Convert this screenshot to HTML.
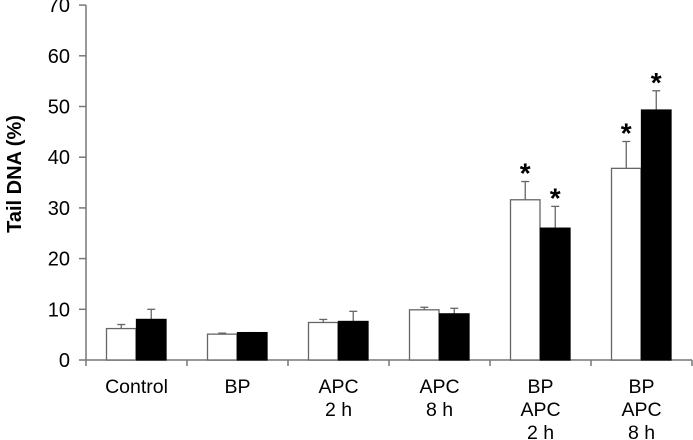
<!DOCTYPE html>
<html><head><meta charset="utf-8"><style>
html,body{margin:0;padding:0;background:#fff;}
svg{display:block;font-family:"Liberation Sans",Arial,sans-serif;}
</style></head><body>
<svg id="chart" width="693" height="440" viewBox="0 0 693 440" xmlns="http://www.w3.org/2000/svg">
<g id="axes"></g><g id="bars"></g>
</svg>
<script>
const categories = [["Control"],["BP"],["APC","2 h"],["APC","8 h"],["BP","APC","2 h"],["BP","APC","8 h"]];
const whiteValues = [6.2, 5.1, 7.4, 9.9, 31.6, 37.8];
const whiteErrors = [0.8, 0.2, 0.6, 0.5, 3.6, 5.3];
const blackValues = [8.0, 5.4, 7.6, 9.1, 26.0, 49.3];
const blackErrors = [2.0, 0.0, 2.0, 1.1, 4.3, 3.8];
const whiteSig = [false,false,false,false,true,true];
const blackSig = [false,false,false,false,true,true];
const yTicks = [0,10,20,30,40,50,60,70];

const NS="http://www.w3.org/2000/svg";
const x0=86, groupW=101, y0=360, pxPerUnit=5.07;
const y=v=>y0-v*pxPerUnit;
const gx=i=>x0+i*groupW;
const axes=document.getElementById('axes'), bars=document.getElementById('bars');
function mk(tag,attrs,parent,text){const e=document.createElementNS(NS,tag);for(const k in attrs)e.setAttribute(k,attrs[k]);if(text!==undefined)e.textContent=text;parent.appendChild(e);return e;}

let e=mk('line',{x1:x0,y1:y(70),x2:x0,y2:y0,stroke:'#777','stroke-width':1.5},axes);

e=mk('line',{x1:x0,y1:y0,x2:x0+groupW*6,y2:y0,stroke:'#777','stroke-width':1.5},axes);

yTicks.forEach(t=>{
  let l=mk('line',{x1:x0-7,y1:y(t),x2:x0,y2:y(t),stroke:'#777','stroke-width':1.5},axes);
  
  let tx=mk('text',{x:x0-16,y:y(t)+7,'text-anchor':'end','font-size':20},axes,String(t));
  
});
for(let i=0;i<=6;i++){
  let l=mk('line',{x1:gx(i),y1:y0,x2:gx(i),y2:y0+6,stroke:'#777','stroke-width':1.5},axes);
  
}
categories.forEach((lines,i)=>{
  lines.forEach((s,j)=>{
    let tx=mk('text',{x:gx(i)+groupW/2,y:393+j*23,'text-anchor':'middle','font-size':19.5},axes,s);
    
  });
});
let yt=mk('text',{x:0,y:0,transform:'translate(21,174) rotate(-90)','text-anchor':'middle','font-size':20,'font-weight':'bold'},axes,'Tail DNA (%)');


function bar(i,v,err,sig,isBlack){
  const bx=gx(i)+(isBlack?50.5:20.5), bw=29.5;
  const cx=bx+bw/2;
  let el=mk('line',{x1:cx,y1:y(v),x2:cx,y2:y(v+err),stroke:'#666','stroke-width':1.3},bars);
  
  el=mk('line',{x1:cx-4,y1:y(v+err),x2:cx+4,y2:y(v+err),stroke:'#666','stroke-width':1.3},bars);
  
  let r=mk('rect',{x:bx,y:y(v),width:bw,height:v*pxPerUnit,fill:isBlack?'#000':'#fff',stroke:isBlack?'#000':'#666','stroke-width':1.3},bars);
  
  if(sig){
    let s=mk('text',{x:cx,y:y(v+err)+1,'text-anchor':'middle','font-size':28,'font-weight':'bold'},bars,'*');
    
  }
}
categories.forEach((c,i)=>{bar(i,whiteValues[i],whiteErrors[i],whiteSig[i],false);bar(i,blackValues[i],blackErrors[i],blackSig[i],true);});
</script>
</body></html>
